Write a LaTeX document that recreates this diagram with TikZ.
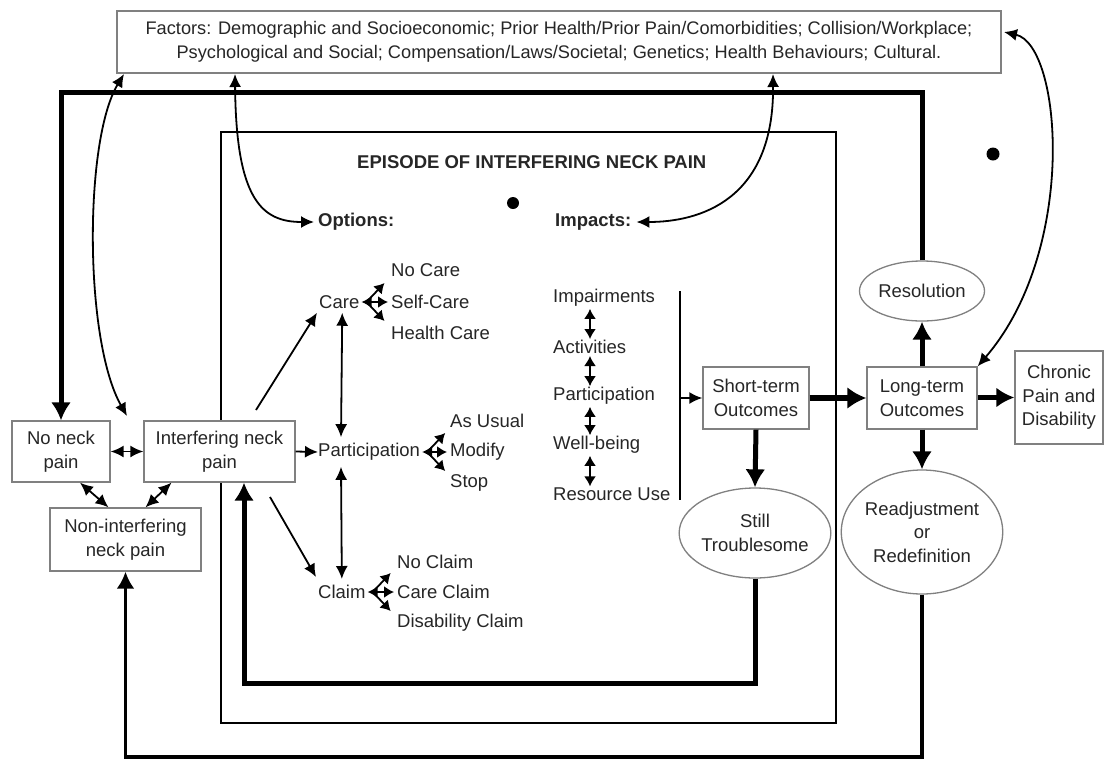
\documentclass[tikz,border=0pt]{standalone}
\usepackage{fontspec}
\setmainfont{Liberation Sans}
\usetikzlibrary{shapes.geometric,arrows.meta,calc}
\newcommand\labfont{\fontsize{18.5}{23.5}\selectfont}
\newcommand\factfont{\fontsize{18.2}{24.5}\selectfont}
\begin{document}
\begin{tikzpicture}[x=1pt,y=-1pt,
  box/.style={draw=black!50, line width=1.3pt, fill=white, rectangle, inner sep=0pt, align=center, font=\labfont, text=black!85},
  ell/.style={draw=black!50, line width=1.3pt, fill=white, ellipse, inner sep=0pt, align=center, font=\labfont, text=black!85},
  lbl/.style={inner sep=0pt, font=\labfont, anchor=west, text=black!85},
  hd/.style={inner sep=0pt, font=\bfseries\labfont, anchor=west, text=black!85},
  tarr/.style={line width=1.8pt, -{Latex[length=13pt,width=12pt]}},
  tdarr/.style={line width=1.8pt, {Latex[length=13pt,width=12pt]}-{Latex[length=13pt,width=12pt]}},
  sarr/.style={line width=1.8pt, -{Latex[length=10pt,width=12pt]}},
  sdarr/.style={line width=1.8pt, {Latex[length=10pt,width=12pt]}-{Latex[length=10pt,width=12pt]}},
  barr/.style={line width=5pt, -{Latex[length=18pt,width=20pt]}},
]
\useasboundingbox (0,0) rectangle (1104,764);
\fill[white] (0,0) rectangle (1104,764);

% frames
\node[draw, line width=2pt, minimum width=615, minimum height=591, inner sep=0pt] (episode) at (528.5,427.5) {};
\node[box, minimum width=884, minimum height=62, font=\factfont] (fac) at (559,42)
  {Factors: Demographic and Socioeconomic; Prior Health/Prior Pain/Comorbidities; Collision/Workplace;\\
   Psychological and Social; Compensation/Laws/Societal; Genetics; Health Behaviours; Cultural.};

\node[hd] (ephead) at (357,162) {EPISODE OF INTERFERING NECK PAIN};
\node[hd] (options) at (318,222) {Options:};
\node[hd] (impacts) at (555,222) {Impacts:};
\fill (513,203) circle (6pt);
\fill (993,154) circle (6.5pt);

% left nodes
\node[box, minimum width=98, minimum height=61] (nonp) at (61,451.5) {No neck\\pain};
\node[box, minimum width=151, minimum height=61] (interf) at (219.5,451.5) {Interfering neck\\pain};
\node[box, minimum width=151, minimum height=63] (nonint) at (125.5,539.5) {Non-interfering\\neck pain};

% options
\node[lbl] (care) at (319,302) {Care};
\node[lbl] (nocare) at (391,270) {No Care};
\node[lbl] (selfcare) at (391,302) {Self-Care};
\node[lbl] (healthcare) at (391,333) {Health Care};
\node[lbl] (part) at (318,452) {Participation};
\node[lbl] (usual) at (450,421) {As Usual};
\node[lbl] (modify) at (450,452) {Modify};
\node[lbl] (stop) at (450,483) {Stop};
\node[lbl] (claim) at (318,592) {Claim};
\node[lbl] (noclaim) at (397,562) {No Claim};
\node[lbl] (careclaim) at (397,592) {Care Claim};
\node[lbl] (disclaim) at (397,623) {Disability Claim};

% impacts
\node[lbl] (imp1) at (553,298) {Impairments};
\node[lbl] (imp2) at (553,347) {Activities};
\node[lbl] (imp3) at (553,396) {Participation};
\node[lbl] (imp4) at (553,445) {Well-being};
\node[lbl] (imp5) at (553,494) {Resource Use};

% outcomes
\node[box, minimum width=106, minimum height=62] (short) at (756,398) {Short-term\\Outcomes};
\node[ell, minimum width=142, minimum height=90] (still) at (755,533) {Still\\Troublesome};
\node[box, minimum width=110, minimum height=62] (long) at (922,398) {Long-term\\Outcomes};
\node[ell, minimum width=125, minimum height=60] (resol) at (922,291) {Resolution};
\node[ell, minimum width=154, minimum height=124] (readj) at (922,532) {Readjustment\\or\\Redefinition};
\node[box, minimum width=88, minimum height=93] (chronic) at (1059,397.5) {Chronic\\Pain and\\Disability};

% big loops
\coordinate (topy) at (0,92);
\coordinate (boty) at (0,757);
\coordinate (loopy) at (0,683);
\coordinate (loopx) at (244,0);
\draw[barr, line join=miter] (resol.north) -- (resol.north |- topy) -- (nonp.north |- topy) -- (nonp.north);
\draw[line width=3.5pt, -{Latex[length=17pt,width=18pt]}, line join=miter] (readj.south) -- (readj.south |- boty) -- (nonint.south |- boty) -- (nonint.south);
\draw[barr, line join=miter] (still.south) -- (still.south |- loopy) -- (loopx |- loopy) -- (loopx |- interf.south);

% left connections
\draw[tdarr] (nonp.east) -- (interf.west);
\draw[tdarr] ($(nonp.south)+(19,0)$) -- ($(nonint.north)+(-17,0)$);
\draw[tdarr] ($(interf.south)+(-48,0)$) -- ($(nonint.north)+(20,0)$);

% interfering to options
\coordinate (i2c) at (256,410);
\coordinate (i2cl) at (270,497);
\draw[tarr] (i2c) -- ($(care.south west)+(-2,4)$);
\draw[tarr] (interf.east) -- (part.west);
\draw[tarr] (i2cl) -- ($(claim.north west)+(-2,-8)$);
\draw[tdarr] ($(care.south)+(3,4)$) -- ($(part.north west)+(23,-6)$);
\draw[tdarr] ($(part.south west)+(23,6)$) -- ($(claim.north)+(0,-6)$);

% fans
\coordinate (cf) at ($(care.east)+(7,0)$);
\draw[sdarr] ($(care.east)+(2,0)$) -- ($(selfcare.west)+(-3,0)$);
\draw[sarr] (cf) -- ++(18,-19);
\draw[sarr] (cf) -- ++(18,19);
\coordinate (pf) at ($(part.east)+(7,0)$);
\draw[sdarr] ($(part.east)+(2,0)$) -- ($(modify.west)+(-3,0)$);
\draw[sarr] (pf) -- ++(18,-19);
\draw[sarr] (pf) -- ++(18,19);
\coordinate (clf) at ($(claim.east)+(7,0)$);
\draw[sdarr] ($(claim.east)+(2,0)$) -- ($(careclaim.west)+(-3,0)$);
\draw[sarr] (clf) -- ++(18,-19);
\draw[sarr] (clf) -- ++(18,19);

% impacts chain
\coordinate (ix) at (590,0);
\draw[sdarr] ($(imp1.south -| ix)+(0,2)$) -- ($(imp2.north -| ix)+(0,-1)$);
\draw[sdarr] ($(imp2.south -| ix)+(0,2)$) -- ($(imp3.north -| ix)+(0,-1)$);
\draw[sdarr] ($(imp3.south -| ix)+(0,2)$) -- ($(imp4.north -| ix)+(0,-1)$);
\draw[sdarr] ($(imp4.south -| ix)+(0,2)$) -- ($(imp5.north -| ix)+(0,-1)$);
\coordinate (vtop) at (680,291);
\coordinate (vbot) at (680,500);
\draw[line width=1.8pt] (vtop) -- (vbot);
\draw[tarr] (short.west -| vtop) -- (short.west);

% outcomes arrows
\draw[barr] (short.south) -- (still.north);
\draw[line width=6pt, -{Latex[length=19pt,width=22pt]}] (short.east) -- (long.west);
\draw[barr] (long.north) -- (resol.south);
\draw[barr] (long.south) -- (readj.north);
\draw[barr] (long.east |- chronic.west) -- (chronic.west);

% factor curves
\coordinate (f1) at (124,74);
\coordinate (f1e) at (127,416);
\draw[tdarr] (f1) .. controls (84,140) and (84,340) .. (f1e);
\coordinate (f2) at (235,74);
\draw[tdarr] (f2) .. controls (236,200) and (262,222) .. ($(options.west)+(-4,0)$);
\coordinate (f3) at (773,74);
\draw[tdarr] (f3) .. controls (774,200) and (700,222) .. ($(impacts.east)+(5,0)$);
\coordinate (f4) at (1004,32);
\draw[tdarr] (f4) .. controls (1062,45) and (1078,250) .. (long.north east);
\end{tikzpicture}
\end{document}
